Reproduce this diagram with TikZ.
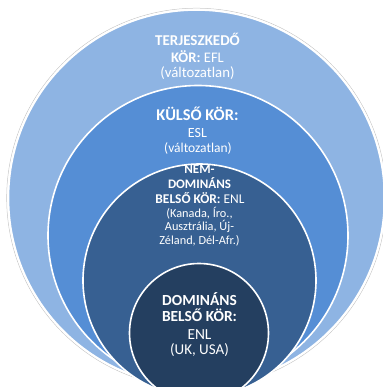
\documentclass[tikz,border=0pt]{standalone}
\usepackage{fontspec}
\setmainfont{Carlito}
\definecolor{cone}{HTML}{8EB4E3}
\definecolor{ctwo}{HTML}{558ED5}
\definecolor{cthree}{HTML}{376092}
\definecolor{cfour}{HTML}{243F60}
\newcommand\fsz[1]{\fontsize{#1bp}{#1bp}\selectfont}
\tikzset{
  ring/.style={draw=white, line width=1.6bp},
  txt/.style={text=white, inner sep=0pt, anchor=base},
}
\begin{document}
\begin{tikzpicture}[x=1bp, y=-1bp]
\useasboundingbox (0,0) rectangle (383,387);
\clip (0,0) rectangle (383,387);
\draw[gray!45, line width=0.5bp] (196.5,198) circle[radius=189.8];
\fill[white] (196.5,198) circle[radius=189.2];
\path[ring, fill=cone] (196.5,198) circle[radius=188];
\path[ring, fill=ctwo] (198,235.5) circle[radius=150];
\path[ring, fill=cthree] (199.5,280.5) circle[radius=116.5];
\path[ring, fill=cfour] (199,333) circle[radius=69.5];
% outer ring text
\node[txt] (a1) at (197.5,45.5) {\fsz{15}\bfseries TERJESZKEDŐ};
\node[txt] (a2) at (197.5,62.3) {\fsz{14.6}\textbf{KÖR:} EFL};
\node[txt] (a3) at (197.5,77.5) {\fsz{14.8}(változatlan)};
% second ring text
\node[txt] (b1) at (197.5,120.7) {\fsz{16.4}\bfseries KÜLSŐ KÖR:};
\node[txt] (b2) at (197.5,137.3) {\fsz{14}ESL};
\node[txt] (b3) at (198,152.3) {\fsz{13.5}(változatlan)};
% third ring text
\node[txt] (c1) at (199.5,173.3) {\fsz{13}\bfseries NEM-};
\node[txt] (c2) at (199.5,188.3) {\fsz{13}\bfseries DOMINÁNS};
\node[txt] (c3) at (200,203.3) {\fsz{13.4}\textbf{BELSŐ KÖR:} ENL};
\node[txt] (c4) at (199.5,217.3) {\fsz{12.3}(Kanada, Íro.,};
\node[txt] (c5) at (199.5,230.7) {\fsz{12.3}Ausztrália, Új-};
\node[txt] (c6) at (199.5,244) {\fsz{12.3}Zéland, Dél-Afr.)};
% inner circle text
\node[txt] (d1) at (199.5,305) {\fsz{15.4}\bfseries DOMINÁNS};
\node[txt] (d2) at (199.5,321.7) {\fsz{15.4}\bfseries BELSŐ KÖR:};
\node[txt] (d3) at (199.5,339) {\fsz{15.4}ENL};
\node[txt] (d4) at (199.5,354.5) {\fsz{15}(UK, USA)};
\end{tikzpicture}
\end{document}
